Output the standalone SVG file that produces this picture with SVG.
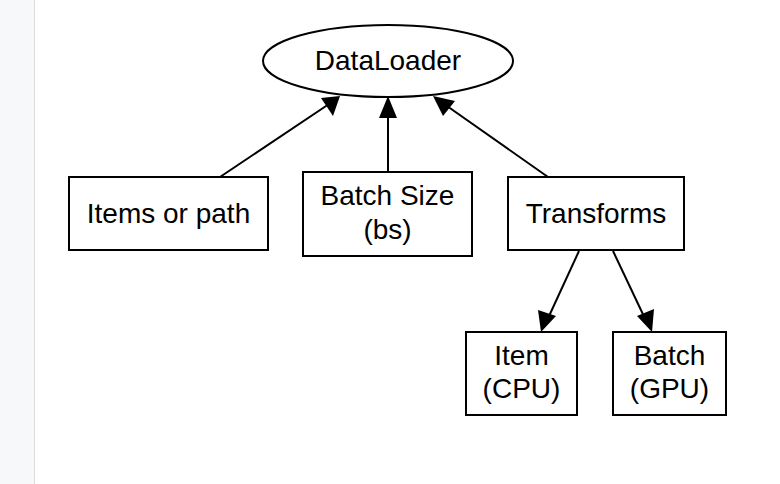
<svg xmlns="http://www.w3.org/2000/svg" width="780" height="484" viewBox="0 0 780 484">
<style>
.n{fill:#fff;stroke:#000;stroke-width:2}
.t{font-family:"Liberation Sans",Arial,sans-serif;font-size:28px;fill:#000;text-anchor:middle}
.e{stroke:#000;stroke-width:2;fill:none}
.h{fill:#000}
</style>
<rect x="0" y="0" width="780" height="484" fill="#fff"/>
<rect x="0" y="0" width="34" height="484" fill="#f6f8fa"/>
<line x1="34.5" y1="0" x2="34.5" y2="484" stroke="#dcdcdc" stroke-width="1"/>
<g id="connectors">
<path class="e" d="M220,177 L335,100"/>
<path class="h" d="M340,96 L333,116 L321,98 Z"/>
<path class="e" d="M388,172 L388,100"/>
<path class="h" d="M388,96 L397,118 L379,118 Z"/>
<path class="e" d="M548,177 L437,99"/>
<path class="h" d="M433,96 L455,101 L443,116 Z"/>
<path class="e" d="M579,251 L544,327"/>
<path class="h" d="M541,332 L538,310 L556,316 Z"/>
<path class="e" d="M613,251 L649,327"/>
<path class="h" d="M652,332 L637,316 L654,309 Z"/>
</g>
<g id="dataloader">
<ellipse class="n" cx="388" cy="61" rx="125" ry="36"/>
<text class="t" x="388" y="70">DataLoader</text>
</g>
<g id="items">
<rect class="n" x="69" y="177" width="199" height="73"/>
<text class="t" x="168.5" y="223">Items or path</text>
</g>
<g id="batchsize">
<rect class="n" x="303" y="172" width="169" height="84"/>
<text class="t" x="387.5" y="205">Batch Size</text>
<text class="t" x="387.5" y="239">(bs)</text>
</g>
<g id="transforms">
<rect class="n" x="508" y="177" width="176" height="73"/>
<text class="t" x="596" y="223">Transforms</text>
</g>
<g id="item">
<rect class="n" x="466" y="332" width="111" height="83"/>
<text class="t" x="521.5" y="365">Item</text>
<text class="t" x="521.5" y="398">(CPU)</text>
</g>
<g id="batch">
<rect class="n" x="613" y="332" width="113" height="83"/>
<text class="t" x="669.5" y="365">Batch</text>
<text class="t" x="669.5" y="398">(GPU)</text>
</g>
</svg>
